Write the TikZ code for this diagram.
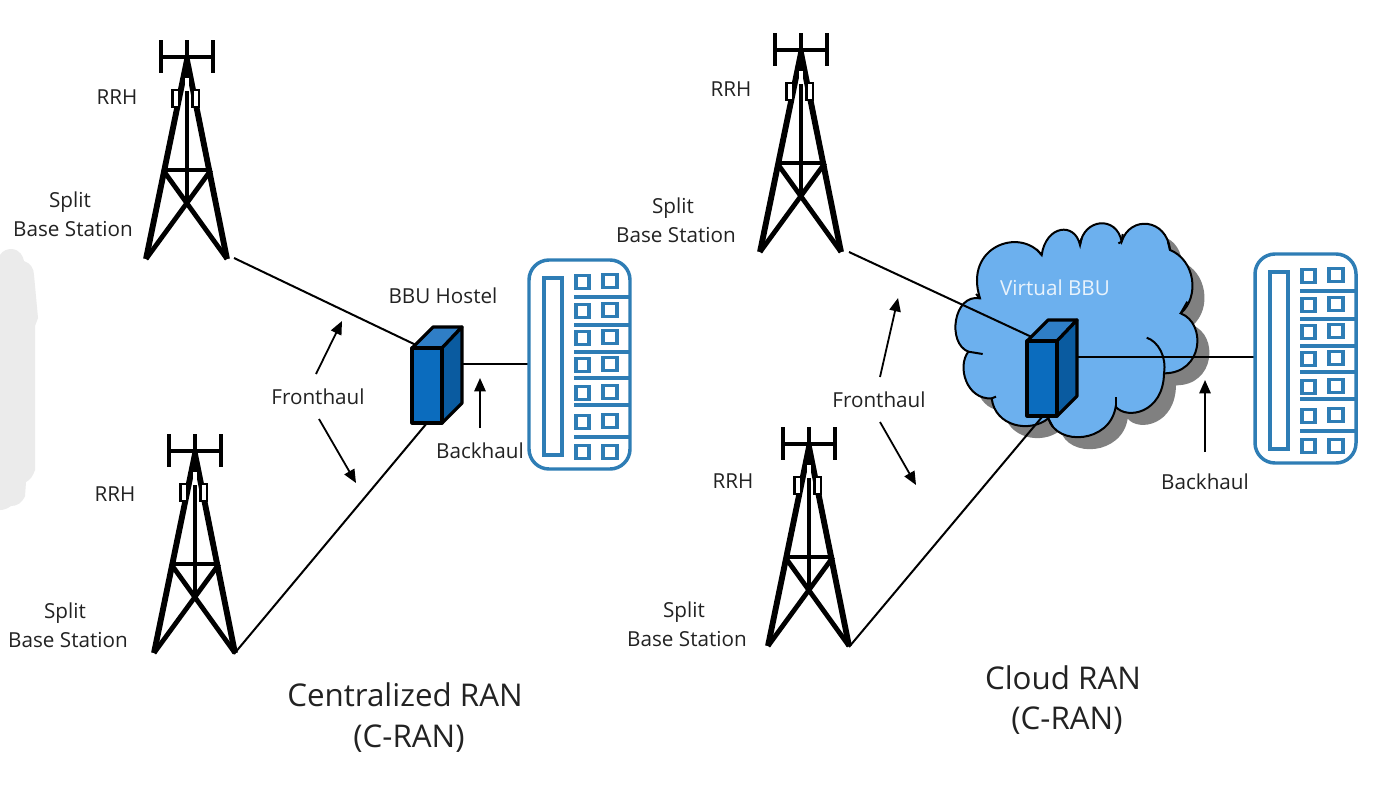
\documentclass[tikz,border=0pt]{standalone}
\usepackage{fontspec}
\setmainfont{Open Sans}
\usetikzlibrary{arrows.meta}
\definecolor{rackblue}{HTML}{2E7DB5}
\definecolor{cloudblue}{HTML}{6CB0EE}
\definecolor{shadowgray}{HTML}{808080}
\definecolor{bbufront}{HTML}{0B6CBE}
\definecolor{bbutop}{HTML}{2F7EC6}
\definecolor{bbuside}{HTML}{0A5BA0}
\definecolor{blobgray}{HTML}{EBEBEB}
\definecolor{textgray}{HTML}{222222}
\newcommand{\cloudoutline}{
  (120,265) .. controls (70,110) and (240,50) .. (305,135)
  .. controls (318,45) and (405,35) .. (420,105)
  .. controls (430,25) and (530,15) .. (545,95)
  .. controls (570,15) and (680,25) .. (690,120)
  .. controls (765,150) and (780,260) .. (722,310)
  .. controls (800,340) and (790,490) .. (672,490)
  .. controls (670,610) and (560,630) .. (527,590)
  .. controls (510,700) and (350,710) .. (325,625)
  .. controls (270,670) and (165,650) .. (155,565)
  .. controls (80,570) and (50,470) .. (85,425)
  .. controls (20,400) and (40,250) .. (120,265) -- cycle}
\tikzset{
  x=0.75pt,y=-0.75pt,
  lab/.style={font=\fontsize{15.5}{21.75}\selectfont,text=textgray,align=center,inner sep=0pt},
  title/.style={font=\fontsize{23.5}{32}\selectfont,text=textgray,align=center,inner sep=0pt},
  link/.style={black,line width=1.5pt},
  pointer/.style={black,line width=1.35pt,-{Triangle[length=10pt,width=8.5pt]}},
  towerline/.style={black,line width=4.4pt},
  towerbar/.style={black,line width=3.6pt},
  bbuedge/.style={black,line width=2.4pt,line join=round},
  rackline/.style={rackblue,line width=2.6pt},
  pics/tower/.style={code={
    \draw[towerbar] (0,0) -- (0,145);
    \draw[towerbar] (-26,-17) -- (-26,16) (26,-17) -- (26,16) (0,-17) -- (0,3) (-26,0) -- (26,0);
    \draw[towerline,line join=miter] (-41,202) -- (0,3) -- (40,202);
    \draw[towerbar] (-24,113) -- (24,113);
    \draw[towerbar] (-24,113) -- (40,202) (24,113) -- (-41,202);
    \fill[white] (-2,21) rectangle (2,34);
    \draw[black,line width=1.8pt,fill=white] (-14.5,33) rectangle (-8,50);
    \draw[black,line width=1.8pt,fill=white] (5.5,33) rectangle (12,50);
  }},
  pics/bbu/.style={code={
    \draw[bbuedge,fill=bbutop] (0,0) -- (21,-21) -- (50,-21) -- (30,0) -- cycle;
    \draw[bbuedge,fill=bbuside] (30,0) -- (50,-21) -- (50,55) -- (30,75) -- cycle;
    \draw[bbuedge,fill=bbufront] (0,0) rectangle (30,75);
  }},
  pics/rack/.style={code={
    \draw[rackline,rounded corners=15pt] (0,0) rectangle (101,209);
    \draw[rackline] (15,18) rectangle (33,195);
    \foreach \yy in {37,65,92,118,145,177} \draw[rackline] (45,\yy) -- (101,\yy);
    \foreach \yy in {22,51,78,105,133,162,192} \draw[rackline] (47,\yy-6.5) rectangle (60,\yy+6.5);
    \foreach \yy in {21,50,77,104,132,161,192} \draw[rackline] (74,\yy-6.5) rectangle (88,\yy+6.5);
  }}
}
\begin{document}
\begin{tikzpicture}
\useasboundingbox (0,0) rectangle (1387,789);
\fill[white] (0,0) rectangle (1387,789);
% grey smudge at the left edge
\fill[blobgray] (0,255) .. controls (3,250) and (8,249) .. (12,249)
  .. controls (20,250) and (23,256) .. (24,261) .. controls (30,263) and (34,268) .. (34,275)
  -- (38,318) -- (35,326) -- (35,470) .. controls (33,476) and (30,480) .. (26,482)
  -- (25,496) .. controls (22,503) and (17,506) .. (11,506) .. controls (7,509) and (3,510) .. (0,510) -- cycle;
% towers
\pic (t1) at (187,57) {tower};
\pic (t2) at (195,451) {tower};
\pic (t3) at (801,50) {tower};
\pic (t4) at (809,444) {tower};
% cloud
\begin{scope}[shift={(940,210)},x=0.25pt,y=-0.25pt]
  \fill[shadowgray,shift={(36,36)}] \cloudoutline;
  \draw[black,line width=1.5pt,fill=cloudblue] \cloudoutline;
  \draw[black,line width=1.5pt] (620,383) .. controls (655,395) and (680,440) .. (672,490);
  \draw[black,line width=1.5pt] (85,425) -- (128,432);
  \draw[black,line width=1.5pt] (527,590) -- (527,560);
  \draw[black,line width=1.5pt] (325,625) -- (338,650);
  \draw[black,line width=1.5pt] (155,565) -- (168,560);
  \draw[black,line width=1.5pt] (722,310) -- (742,275);
  \draw[black,line width=1.5pt] (690,120) -- (684,96);
  \draw[black,line width=1.5pt] (545,95) -- (535,100) (545,95) -- (548,72);
  \draw[black,line width=1.5pt] (420,105) -- (425,85);
  \draw[black,line width=1.5pt] (305,135) -- (290,118);
  \draw[black,line width=1.5pt] (120,265) -- (108,252);
\end{scope}
% anchors
\coordinate (c1) at (234,258);
\coordinate (c2) at (234,654);
\coordinate (c3) at (849,252);
\coordinate (c4) at (849,647);
\coordinate (b1a) at (416,345);
\coordinate (b1b) at (427,423);
\coordinate (b1r) at (462,364);
\coordinate (b2a) at (1036,339);
\coordinate (b2b) at (1042,417);
\coordinate (b2r) at (1077,357);
\coordinate (r1l) at (529,364);
\coordinate (r2l) at (1255,357);
% connectors
\draw[link] (c1) -- (b1a);
\draw[link] (c2) -- (b1b);
\draw[link] (b1r) -- (r1l);
\draw[link] (c3) -- (b2a);
\draw[link] (c4) -- (b2b);
\draw[link] (b2r) -- (r2l);
% equipment
\pic (bbu1) at (412,348) {bbu};
\pic (bbu2) at (1027,341) {bbu};
\pic (rack1) at (529,260) {rack};
\pic (rack2) at (1255,254) {rack};
% labels
\node[lab] (rrh1) at (117,97) {RRH};
\node[lab] (sbs1) at (73,214.5) {Split\hspace*{4.5pt}\\Base Station};
\node[lab] (rrh2) at (115,494) {RRH};
\node[lab] (sbs2) at (68,625.5) {Split\hspace*{4.5pt}\\Base Station};
\node[lab] (host) at (443,296) {BBU Hostel};
\node[lab] (fh1) at (318,397) {Fronthaul};
\node[lab] (bh1) at (480,451) {Backhaul};
\node[title] (t1a) at (405,695) {Centralized RAN};
\node[title] (t1b) at (409,739) {(C-RAN)};
\node[lab] (rrh3) at (731,89) {RRH};
\node[lab] (sbs3) at (676,220.5) {Split\hspace*{4.5pt}\\Base Station};
\node[lab] (rrh4) at (733,481) {RRH};
\node[lab] (sbs4) at (687,624.5) {Split\hspace*{4.5pt}\\Base Station};
\node[lab,text=white!85!cloudblue] (vbbu) at (1055,288) {Virtual BBU};
\node[lab] (fh2) at (879,400) {Fronthaul};
\node[lab] (bh2) at (1205,482) {Backhaul};
\node[title] (t2a) at (1063,678) {Cloud RAN};
\node[title] (t2b) at (1067,721) {(C-RAN)};
% pointers
\coordinate (p1s) at (316,374); \coordinate (p1e) at (342,321);
\coordinate (p2s) at (319,419); \coordinate (p2e) at (356,483);
\coordinate (p3s) at (480,428); \coordinate (p3e) at (480,378);
\coordinate (p4s) at (880,377); \coordinate (p4e) at (898,298);
\coordinate (p5s) at (880,422); \coordinate (p5e) at (916,485);
\coordinate (p6s) at (1205,452); \coordinate (p6e) at (1205,380);
\draw[pointer] (p1s) -- (p1e);
\draw[pointer] (p2s) -- (p2e);
\draw[pointer] (p3s) -- (p3e);
\draw[pointer] (p4s) -- (p4e);
\draw[pointer] (p5s) -- (p5e);
\draw[pointer] (p6s) -- (p6e);
\end{tikzpicture}
\end{document}
